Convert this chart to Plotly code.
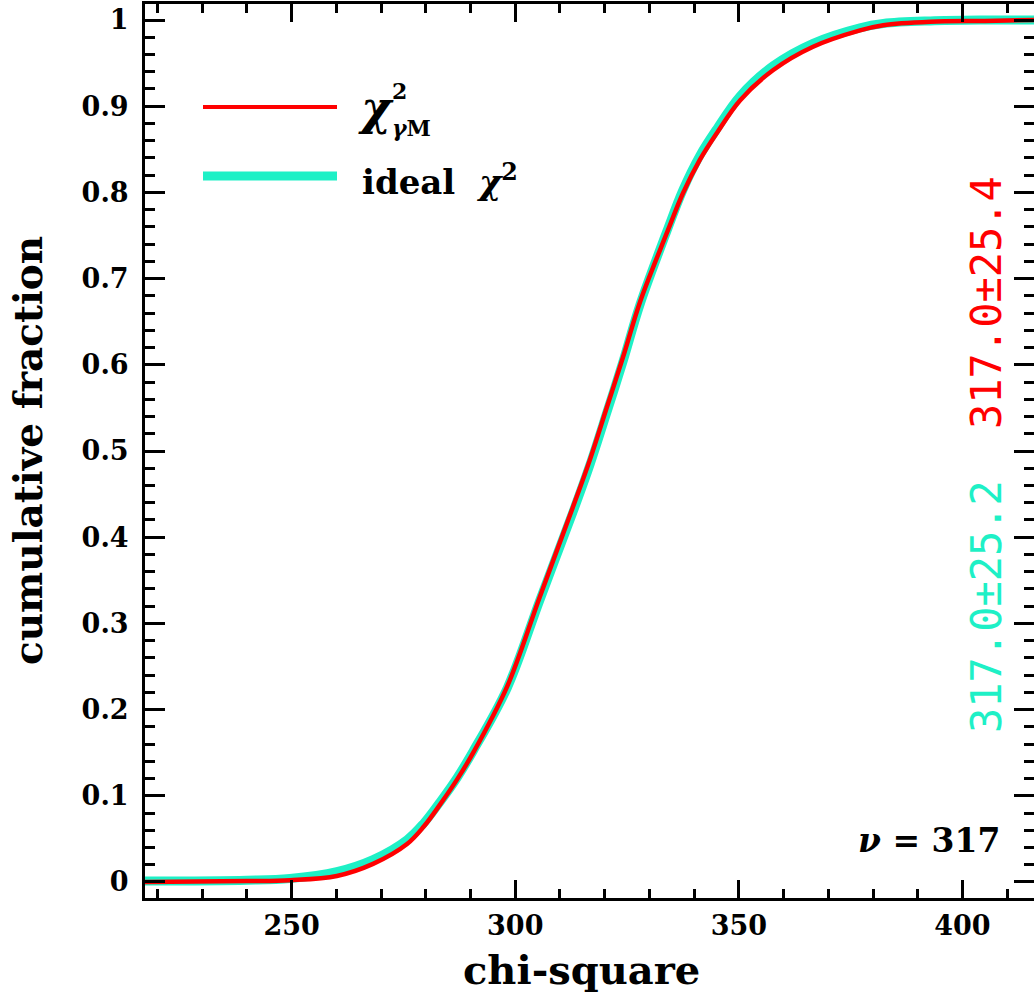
import plotly.graph_objects as go

# ---- data ----
chi_x = [217.2, 240.0, 249.6, 260.1, 268.2, 275.8, 279.5, 283.2, 287.0, 290.6, 298.2, 305.5,
         312.9, 316.7, 320.5, 324.1, 327.9, 333.9, 337.5, 341.3, 345.1, 350.3,
         357.7, 366.6, 377.1, 382.3, 392.8, 405.0, 416.0]
red_cdf = [0.000, 0.001, 0.002, 0.007, 0.021, 0.044, 0.064, 0.090, 0.119, 0.150, 0.227, 0.331,
           0.435, 0.490, 0.551, 0.609, 0.673, 0.753, 0.799, 0.838, 0.869, 0.907,
           0.942, 0.969, 0.988, 0.994, 0.998, 0.999, 1.000]
cyan_cdf = [0.001, 0.002, 0.004, 0.012, 0.026, 0.049, 0.068, 0.093, 0.121, 0.152, 0.225, 0.327,
            0.429, 0.484, 0.545, 0.604, 0.670, 0.755, 0.803, 0.843, 0.874, 0.912,
            0.947, 0.973, 0.991, 0.996, 0.999, 1.000, 1.000]

x_ticks = [250, 300, 350, 400]
y_ticks = [0, 0.1, 0.2, 0.3, 0.4, 0.5, 0.6, 0.7, 0.8, 0.9, 1.0]
y_tick_labels = ["0", "0.1", "0.2", "0.3", "0.4", "0.5", "0.6", "0.7", "0.8", "0.9", "1"]

red_label = "317.0\u00b125.4"
cyan_label = "317.0\u00b125.2"
nu_label = "<i>\u03bd</i> = 317"

RED = "#FF0000"
CYAN = "#1EF0C6"
W, H = 1034, 994
ML, MR, MT, MB = 145, 0, 4, 96
PW, PH = W - ML - MR, H - MT - MB

def px(xp):
    return (xp - ML) / PW

def py(yp):
    return (H - MB - yp) / PH

fig = go.Figure()
fig.add_trace(go.Scatter(x=chi_x, y=cyan_cdf, mode="lines", line=dict(color=CYAN, width=9, shape="spline"),
                         showlegend=False, hoverinfo="skip"))
fig.add_trace(go.Scatter(x=chi_x, y=red_cdf, mode="lines", line=dict(color=RED, width=4.5, shape="spline"),
                         showlegend=False, hoverinfo="skip"))
# empty trace so the top/right tick axes are drawn
fig.add_trace(go.Scatter(x=[], y=[], xaxis="x2", yaxis="y2", showlegend=False, hoverinfo="skip"))

tickfont = dict(family="DejaVu Serif", size=27, color="black", weight="bold")
XR = [217.2, 416.0]
YR = [-0.0186, 1.0186]

xminor = dict(dtick=10, tick0=0, ticks="inside", ticklen=9, tickwidth=2.5, tickcolor="black", showgrid=False)
yminor = dict(dtick=0.02, tick0=0, ticks="inside", ticklen=10, tickwidth=2.5, tickcolor="black", showgrid=False)

fig.update_layout(
    xaxis=dict(range=XR, tickvals=x_ticks, ticks="inside", ticklen=18, tickwidth=2.5, tickcolor="black",
               showline=True, linewidth=3, linecolor="black", mirror=True, showgrid=False, zeroline=False,
               tickfont=tickfont, ticklabelstandoff=2, minor=xminor),
    yaxis=dict(range=YR, tickvals=y_ticks, ticktext=y_tick_labels, ticks="inside", ticklen=20, tickwidth=2.5,
               tickcolor="black", showline=True, linewidth=3, linecolor="black", mirror=True, showgrid=False,
               zeroline=False, tickfont=tickfont, ticklabelstandoff=8, minor=yminor),
    xaxis2=dict(range=XR, overlaying="x", side="top", anchor="y2", tickvals=x_ticks, ticks="inside", ticklen=18,
                tickwidth=2.5, tickcolor="black", showticklabels=False, showline=False, showgrid=False,
                zeroline=False, minor=xminor),
    yaxis2=dict(range=YR, overlaying="y", side="right", anchor="x2", tickvals=y_ticks, ticks="inside",
                ticklen=20, tickwidth=2.5, tickcolor="black", showticklabels=False, showline=False,
                showgrid=False, zeroline=False, minor=yminor),
)

shapes = [
    dict(type="line", xref="paper", yref="paper", x0=px(203), x1=px(337), y0=py(107), y1=py(107),
         line=dict(color=RED, width=4)),
    dict(type="line", xref="paper", yref="paper", x0=px(203), x1=px(337), y0=py(176), y1=py(176),
         line=dict(color=CYAN, width=9)),
]

serif_bold = dict(family="DejaVu Serif", color="black", weight="bold")
ann = []
# axis titles
ann.append(dict(text="chi-square", x=px(581), y=py(970), xref="paper", yref="paper", showarrow=False,
                font=dict(size=40, **serif_bold), xanchor="center", yanchor="middle"))
ann.append(dict(text="cumulative fraction", x=px(28), y=py(451), xref="paper", yref="paper", showarrow=False,
                textangle=-90, font=dict(size=39, **serif_bold), xanchor="center", yanchor="middle"))
# legend texts
ann.append(dict(text="<i>\u03c7</i>", x=px(357), y=py(108), xref="paper", yref="paper", showarrow=False,
                font=dict(size=46, **serif_bold), xanchor="left", yanchor="middle", borderpad=0))
ann.append(dict(text="2", x=px(391), y=py(105), xref="paper", yref="paper", showarrow=False,
                font=dict(size=22, **serif_bold), xanchor="left", yanchor="bottom", borderpad=0))
ann.append(dict(text="<i>\u03b3</i>M", x=px(391), y=py(114), xref="paper", yref="paper", showarrow=False,
                font=dict(size=22, **serif_bold), xanchor="left", yanchor="top", borderpad=0))
ann.append(dict(text="ideal  <i>\u03c7</i><sup>2</sup>", x=px(360), y=py(180), xref="paper", yref="paper",
                showarrow=False, font=dict(size=34, **serif_bold), xanchor="left", yanchor="middle"))
# right-side rotated labels
ann.append(dict(text=red_label, x=px(986), y=py(303), xref="paper", yref="paper", showarrow=False,
                textangle=-90, font=dict(family="DejaVu Sans Mono", size=42, color=RED),
                xanchor="center", yanchor="middle"))
ann.append(dict(text=cyan_label, x=px(986), y=py(607), xref="paper", yref="paper", showarrow=False,
                textangle=-90, font=dict(family="DejaVu Sans Mono", size=42, color=CYAN),
                xanchor="center", yanchor="middle"))
ann.append(dict(text=nu_label, x=px(929), y=py(840), xref="paper", yref="paper", showarrow=False,
                font=dict(size=33, **serif_bold), xanchor="center", yanchor="middle"))

fig.update_layout(width=W, height=H, margin=dict(l=ML, r=MR, t=MT, b=MB, autoexpand=False),
                  plot_bgcolor="white", paper_bgcolor="white", shapes=shapes, annotations=ann,
                  showlegend=False)

fig.write_html("out.html", config={"displayModeBar": False},
               post_script="document.body.style.margin='0';document.body.style.overflow='hidden';")
